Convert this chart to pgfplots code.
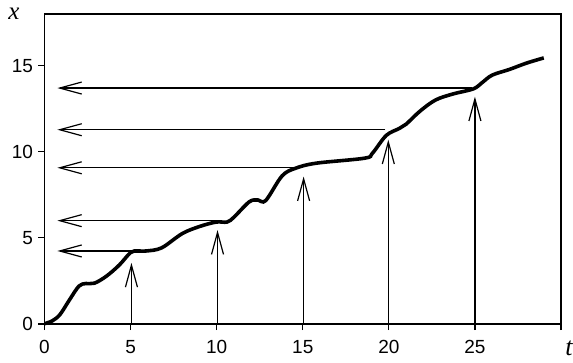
\documentclass[border=0pt]{standalone}
\usepackage{fontspec}
\setmainfont{Liberation Sans}
\newfontfamily\serifit{Liberation Serif}
\usepackage{pgfplots}
\pgfplotsset{compat=1.18}
\usetikzlibrary{arrows.meta}
\begin{document}
\begin{tikzpicture}
\begin{axis}[
  scale only axis,
  width=516.5bp, height=310bp,
  xmin=0, xmax=30, ymin=0, ymax=18,
  axis line style={line width=1.4bp},
  tick align=outside,
  xtick pos=bottom, ytick pos=left,
  major tick length=6bp,
  tick style={line width=1.2bp, black},
  xtick={0,5,10,15,20,25,30},
  xticklabels={0,5,10,15,20,25,{}},
  ytick={0,5,10,15},
  tick label style={font=\fontsize{19bp}{21bp}\selectfont},
  xticklabel shift=7bp,
  yticklabel shift=2bp,
  /pgf/number format/assume math mode=true,
  clip=false,
]
\addplot[black, line width=3.6bp, smooth, tension=0.55] coordinates {
(0,0.02) (0.45,0.18) (0.9,0.55) (1.45,1.4) (2.0,2.2) (2.4,2.35) (2.9,2.37)
(3.6,2.78) (4.35,3.43) (5.0,4.15) (5.4,4.24) (5.9,4.24) (6.8,4.42) (8.0,5.25)
(9.0,5.66) (9.97,5.92) (10.6,5.92) (11.0,6.2) (11.9,7.1) (12.4,7.2) (12.85,7.17)
(13.8,8.6) (14.6,9.05) (15.8,9.34) (18.6,9.63) (19.05,9.92) (19.85,10.95)
(20.6,11.35) (21.0,11.6) (21.8,12.35) (22.7,13.0) (23.7,13.35) (24.9,13.65)
(25.4,14.0) (26.0,14.45) (27.0,14.78) (28.0,15.15) (29.0,15.45)
};
% vertical arrows
\addplot[black, line width=1.2bp, -{Straight Barb[length=22bp, width=12bp, line width=1.2bp]}] coordinates {(5.05,0) (5.05,3.55)};
\addplot[black, line width=1.2bp, -{Straight Barb[length=22bp, width=12bp, line width=1.2bp]}] coordinates {(10.05,0) (10.05,5.45)};
\addplot[black, line width=1.2bp, -{Straight Barb[length=22bp, width=12bp, line width=1.2bp]}] coordinates {(15.05,0) (15.05,8.56)};
\addplot[black, line width=1.2bp, -{Straight Barb[length=22bp, width=12bp, line width=1.2bp]}] coordinates {(19.97,0) (19.97,10.7)};
\addplot[black, line width=1.2bp, -{Straight Barb[length=22bp, width=12bp, line width=1.2bp]}] coordinates {(25.0,0) (25.0,13.2)};
% horizontal arrows
\addplot[black, line width=1.2bp, -{Straight Barb[length=22bp, width=12bp, line width=1.2bp]}] coordinates {(5.1,4.24) (0.75,4.24)};
\addplot[black, line width=1.2bp, -{Straight Barb[length=22bp, width=12bp, line width=1.2bp]}] coordinates {(9.97,6.0) (0.75,6.0)};
\addplot[black, line width=1.2bp, -{Straight Barb[length=22bp, width=12bp, line width=1.2bp]}] coordinates {(14.6,9.07) (0.75,9.07)};
\addplot[black, line width=1.2bp, -{Straight Barb[length=22bp, width=12bp, line width=1.2bp]}] coordinates {(19.8,11.28) (0.75,11.28)};
\addplot[black, line width=1.2bp, -{Straight Barb[length=22bp, width=12bp, line width=1.2bp]}] coordinates {(24.85,13.7) (0.75,13.7)};
\end{axis}
\node[inner sep=0pt, font=\serifit\itshape\fontsize{25bp}{27bp}\selectfont] at ([shift={(-30.5bp,0.5bp)}]current axis.north west) {x};
\node[inner sep=0pt, font=\serifit\itshape\fontsize{26bp}{28bp}\selectfont] at ([shift={(8bp,-24bp)}]current axis.south east) {t};
\pgfresetboundingbox
\path ([shift={(-44.5bp,-39bp)}]current axis.south west) rectangle ([shift={(12bp,14bp)}]current axis.north east);
\end{tikzpicture}
\end{document}
